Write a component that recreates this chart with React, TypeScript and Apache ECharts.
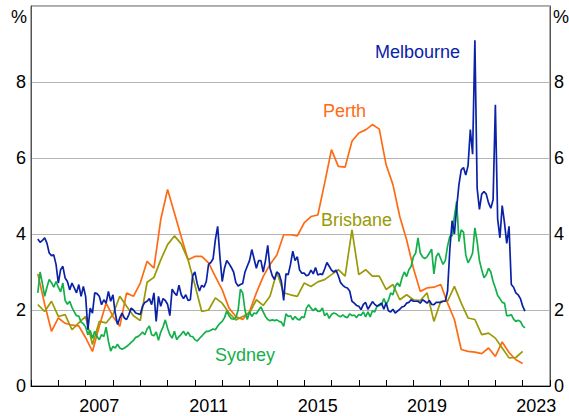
import React, { useEffect, useRef } from "react";
import * as echarts from "echarts";

// Monthly series start April 2005; quarterly series start 2005 Q2
const MONTHLY_START = 2005.25;
const QUARTERLY_START = 2005.25;

const yearCategories = ["2005","2006","2007","2008","2009","2010","2011","2012","2013","2014","2015","2016","2017","2018","2019","2020","2021","2022","2023"];
const labelledYears = ["2007", "2011", "2015", "2019", "2023"];
const yTicks = [0, 2, 4, 6, 8];

const melbourne = [
  3.87, 3.78, 3.83, 3.9, 3.76, 3.5, 3.43, 3.45, 3.2, 2.71, 3.06, 3.15, 2.84, 2.75, 2.53, 2.71, 2.58, 2.45, 2.67, 2.36, 2.62, 2.36, 1.48, 2.05, 1.92, 2.45, 2.43, 2.36, 2.14, 2.27, 2.18, 2.49, 2.23, 2.4, 1.92, 1.62, 1.79, 1.92, 1.79, 1.75, 1.88,
  2.05, 2.0, 1.92, 1.9, 1.88, 2.1, 2.2, 2.23, 2.3, 2.14, 2.45, 1.7, 2.36, 2.1, 2.3, 2.25, 2.15, 1.85, 2.55, 2.45, 2.38, 2.65, 2.4, 2.3, 2.4, 2.25, 2.27, 2.9, 3.0, 2.7, 2.5, 2.65, 2.6, 2.75, 3.2, 3.25, 3.35, 3.85, 4.2, 3.4, 2.75, 3.1,
  3.3, 3.22, 3.12, 3.0, 2.72, 2.63, 2.67, 2.7, 3.0, 3.15, 3.3, 3.59, 3.35, 3.1, 3.3, 3.3, 3.0, 3.3, 3.7, 3.1, 2.9, 2.8, 3.0, 2.95, 2.75, 2.25, 2.95, 2.93, 3.2, 3.55, 3.3, 3.4, 3.05, 2.97, 2.97, 2.9, 2.93, 3.05, 2.95, 3.12, 2.92, 2.95,
  2.93, 3.08, 3.25, 3.15, 3.05, 3.0, 3.05, 2.9, 2.72, 2.65, 2.6, 2.58, 2.5, 2.23, 2.18, 2.12, 2.1, 2.01, 2.15, 2.2, 2.02, 2.12, 2.22, 2.15, 2.1, 2.14, 2.18, 2.02, 2.19, 1.98, 1.95, 2.02, 1.92, 1.97, 2.02, 2.08, 2.1, 2.18, 2.2, 2.27, 2.23, 2.23,
  2.23, 2.18, 2.27, 2.23, 2.18, 2.25, 2.15, 2.14, 2.2, 2.2, 2.2, 2.23, 2.23, 2.5, 3.6, 4.35, 4.0, 4.7, 5.3, 5.69, 5.75, 5.55, 5.8, 6.75, 6.1, 9.1, 5.2, 4.65, 5.05, 5.12, 5.05, 4.82, 4.68, 4.9, 7.4, 4.4, 3.9, 4.75, 4.3, 3.75, 4.2, 2.67, 2.6, 2.45, 2.4, 2.3, 2.1, 1.97,
];

const sydney = [
  2.45, 3.0, 2.7, 2.36, 2.6, 2.8, 2.72, 2.6, 2.75, 2.6, 2.48, 2.71, 2.25, 2.15, 2.23, 2.07, 1.95, 1.85, 1.84, 1.68, 1.64, 1.55, 1.35, 1.46, 1.25, 1.44, 1.3, 1.22, 1.35, 1.3, 1.55, 1.18, 0.92, 1.04, 1.0, 1.1, 1.0, 0.97, 1.0, 1.04, 1.09,
  1.15, 1.2, 1.28, 1.3, 1.35, 1.42, 1.35, 1.5, 1.58, 1.35, 1.32, 1.42, 1.2, 1.42, 1.55, 1.74, 1.52, 1.35, 1.26, 1.44, 1.22, 1.3, 1.36, 1.44, 1.33, 1.42, 1.31, 1.3, 1.22, 1.18, 1.25, 1.31, 1.38, 1.44, 1.44, 1.47, 1.5, 1.48, 1.57, 1.65, 1.7, 1.8,
  1.97, 1.85, 1.77, 1.76, 1.8, 2.0, 2.55, 2.45, 2.0, 1.75, 1.95, 1.83, 1.92, 1.9, 2.0, 2.08, 1.95, 1.83, 1.75, 1.72, 1.74, 1.72, 1.74, 1.7, 1.68, 1.57, 1.9, 1.83, 1.85, 1.74, 1.83, 1.76, 1.74, 1.82, 1.8, 2.05, 2.14, 2.05, 1.98, 2.05, 1.96, 1.97,
  2.05, 1.85, 1.92, 1.78, 1.88, 1.92, 1.9, 1.85, 1.82, 1.87, 1.82, 1.8, 1.9, 1.85, 1.87, 1.8, 1.88, 1.86, 1.95, 1.82, 1.95, 1.82, 1.98, 1.95, 2.1, 2.12, 2.14, 2.3, 2.15, 2.25, 2.45, 2.4, 2.62, 2.71, 2.62, 2.85, 3.0, 2.88, 3.06, 3.15, 3.4, 3.5,
  3.9, 3.5, 3.4, 3.35, 3.4, 3.5, 3.6, 2.95, 3.4, 3.5, 3.35, 3.2, 3.3, 3.68, 3.94, 3.95, 4.46, 4.86, 3.8, 4.11, 4.05, 3.45, 3.24, 3.35, 3.5, 4.16, 3.8, 3.3, 3.06, 2.85, 2.93, 3.1, 3.0, 2.75, 2.58, 2.38, 2.3, 2.2, 2.18, 1.85, 1.85, 1.88, 1.76, 1.7, 1.73, 1.7, 1.58, 1.53,
];

const perth = [
  2.95, 2.15, 1.44, 1.79, 1.65, 1.6, 1.58, 1.27, 0.91, 1.57, 2.18, 1.83, 1.57, 2.45, 2.36, 2.71, 3.28, 3.1, 4.38, 5.17, 4.55, 3.93, 3.32, 3.41,
  3.41, 3.24, 2.88, 2.53, 2.05, 1.83, 1.75, 1.96, 2.45, 2.88, 3.2, 3.45, 3.98, 3.98, 3.95, 4.29, 4.46, 4.5, 5.34, 6.22, 5.78, 5.76, 6.44, 6.66,
  6.74, 6.88, 6.76, 5.82, 5.3, 4.46, 3.85, 3.1, 2.49, 2.58, 2.6, 2.67, 2.18, 1.75, 0.96, 0.91, 0.89, 0.85, 1.0, 0.78, 1.16, 0.88, 0.69, 0.59,
];

const brisbane = [
  2.14, 1.96, 2.23, 1.83, 1.88, 1.48, 1.66, 1.83, 1.09, 1.7, 1.66, 1.88, 2.36, 2.1, 1.85, 1.72, 2.73, 2.86, 3.32, 3.72, 3.95, 3.74, 3.32, 2.66,
  1.96, 2.0, 2.32, 2.18, 1.92, 1.74, 1.83, 1.92, 2.27, 2.12, 2.36, 3.0, 2.45, 2.4, 2.36, 2.71, 2.62, 2.74, 2.8, 2.93, 3.06, 2.89, 4.11, 2.93,
  3.06, 2.89, 2.89, 2.54, 2.67, 2.27, 2.4, 2.27, 2.25, 2.45, 1.7, 2.23, 2.23, 2.62, 2.18, 1.79, 1.75, 1.35, 1.39, 1.26, 1.0, 0.74, 0.75, 0.91,
];

const COLORS = {
  melbourne: "#0a22a8",
  perth: "#ff6a13",
  brisbane: "#999a06",
  sydney: "#12b04a",
};

const FONT = "'Liberation Sans', Arial, sans-serif";

const monthly = (vals: number[]) => vals.map((v, i) => [MONTHLY_START + i / 12, v]);
const quarterly = (vals: number[]) => vals.map((v, i) => [QUARTERLY_START + i * 0.25, v]);

export default function App() {
  const ref = useRef<HTMLDivElement>(null);

  useEffect(() => {
    if (!ref.current) return;
    const chart = echarts.init(ref.current, undefined, { renderer: "svg" });

    const lineSeries = (name: string, data: number[][], color: string, z: number) => ({
      name,
      type: "line",
      xAxisIndex: 0,
      yAxisIndex: 0,
      data,
      showSymbol: false,
      symbol: "none",
      z,
      lineStyle: { color, width: 1.7 },
      emphasis: { disabled: true },
    });

    const label = (text: string, x: number, y: number, color: string) => ({
      type: "text",
      x,
      y,
      style: { text, fill: color, font: `18px ${FONT}`, textVerticalAlign: "middle" },
      z: 100,
    });

    chart.setOption({
      animation: false,
      grid: {
        left: 31,
        right: 19,
        top: 6,
        bottom: 30,
        show: true,
        borderColor: "#555",
        borderWidth: 1,
      },
      xAxis: [
        {
          type: "value",
          min: 2005,
          max: 2024,
          show: false,
        },
        {
          type: "category",
          data: yearCategories,
          boundaryGap: true,
          position: "bottom",
          axisLine: { show: true, lineStyle: { color: "#000", width: 1.2 } },
          axisTick: { show: true, inside: true, length: 6, interval: 0, lineStyle: { color: "#000" } },
          axisLabel: {
            interval: (_i: number, v: string) => labelledYears.includes(v),
            color: "#000",
            fontSize: 18,
            fontFamily: FONT,
            margin: 11,
          },
          splitLine: { show: false },
        },
      ],
      yAxis: [
        {
          type: "value",
          min: 0,
          max: 10,
          interval: 2,
          position: "left",
          axisLine: { show: true, lineStyle: { color: "#555" } },
          axisTick: { show: false },
          axisLabel: {
            formatter: (v: number) => (yTicks.includes(v) ? String(v) : ""),
            color: "#000",
            fontSize: 18,
            fontFamily: FONT,
            margin: 5,
          },
          splitLine: { show: true, lineStyle: { color: "#b5b5b5", width: 1 } },
        },
        {
          type: "value",
          min: 0,
          max: 10,
          interval: 2,
          position: "right",
          axisLine: { show: true, lineStyle: { color: "#555" } },
          axisTick: { show: false },
          axisLabel: {
            formatter: (v: number) => (yTicks.includes(v) ? String(v) : ""),
            color: "#000",
            fontSize: 18,
            fontFamily: FONT,
            margin: 4,
          },
          splitLine: { show: false },
        },
      ],
      series: [
        lineSeries("Perth", quarterly(perth), COLORS.perth, 2),
        lineSeries("Brisbane", quarterly(brisbane), COLORS.brisbane, 3),
        lineSeries("Sydney", monthly(sydney), COLORS.sydney, 4),
        lineSeries("Melbourne", monthly(melbourne), COLORS.melbourne, 5),
      ],
      graphic: [
        { type: "text", x: 27, y: 17, style: { text: "%", fill: "#000", font: `18px ${FONT}`, textAlign: "right", textVerticalAlign: "middle" } },
        { type: "text", x: 553, y: 17, style: { text: "%", fill: "#000", font: `18px ${FONT}`, textAlign: "left", textVerticalAlign: "middle" } },
        label("Melbourne", 375, 52, COLORS.melbourne),
        label("Perth", 323, 111, COLORS.perth),
        label("Brisbane", 321, 220, COLORS.brisbane),
        label("Sydney", 215, 355, COLORS.sydney),
      ],
    });

    return () => chart.dispose();
  }, []);

  return (
    <div
      ref={ref}
      style={{ position: "absolute", left: 0, top: 0, width: 569, height: 416 }}
    />
  );
}
